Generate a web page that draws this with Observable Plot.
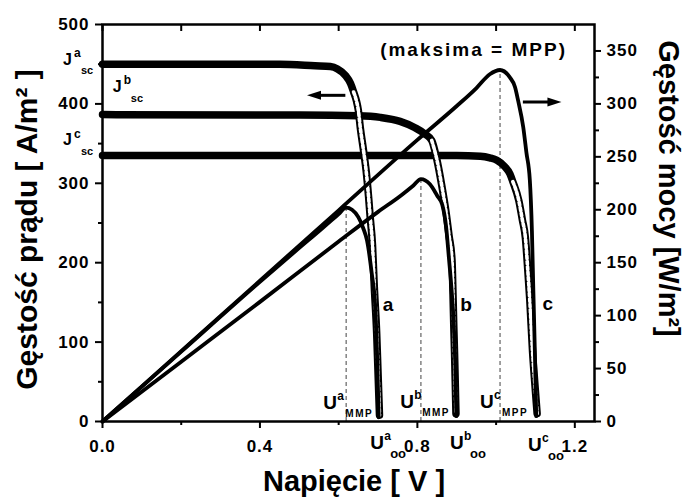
<!DOCTYPE html>
<html>
<head>
<meta charset="utf-8">
<script src="https://cdn.jsdelivr.net/npm/d3@7"></script>
<script src="https://cdn.jsdelivr.net/npm/@observablehq/plot@0.6"></script>
<style>
  body { margin: 0; background: #fff; }
  svg text { font-family: "Liberation Sans", Arial, sans-serif; font-weight: bold; }
</style>
</head>
<body>
<div id="chart"></div>
<script>
// Cells
const cells = ["a", "b", "c"];

// Current density J [A/m²] versus voltage U [V]
const uA = [0, 0.45, 0.54, 0.579, 0.597, 0.617, 0.630, 0.638, 0.645, 0.650, 0.655, 0.663, 0.670, 0.676, 0.680, 0.686, 0.6905, 0.6966, 0.6996, 0.7037];
const jA = [450, 450, 448, 447, 444, 436, 426, 415, 404, 392, 370, 342, 315, 283, 258, 222, 170, 111, 68, 8];

const uB = [0, 0.50, 0.65, 0.706, 0.756, 0.794, 0.8195, 0.8365, 0.849, 0.862, 0.873, 0.8805, 0.888, 0.8905, 0.8925, 0.8945, 0.8962, 0.898];
const jB = [386.5, 386, 385, 383, 378, 370, 362, 354, 331, 297, 263, 234, 203, 160, 120, 85, 50, 10];

const uC = [0, 0.60, 0.90, 0.96, 0.984, 1.002, 1.022, 1.035, 1.0426, 1.0578, 1.0667, 1.0743, 1.0806, 1.0857, 1.0925, 1.0984, 1.1042];
const jC = [335, 335, 335, 334, 332, 329, 321, 312, 302, 278, 254, 232, 190, 152, 89, 48, 10];

// Power density P [W/m²] versus voltage U [V]
const puA = [0, 0.20, 0.40, 0.50, 0.56, 0.60, 0.619, 0.634, 0.650, 0.662, 0.672, 0.684, 0.693, 0.698, 0.7017];
const pA  = [0, 66, 132, 164, 183, 196, 202, 200, 193, 183, 171, 140, 108, 58, 4];

const puB = [0, 0.20, 0.40, 0.60, 0.70, 0.76, 0.79, 0.809, 0.832, 0.850, 0.863, 0.873, 0.880, 0.887, 0.892, 0.896, 0.899];
const pB  = [0, 56.5, 113, 170, 198, 214, 223, 229, 224, 213.5, 205, 184, 155, 124, 95, 57, 5];

const puC = [0, 0.20, 0.40, 0.60, 0.80, 0.90, 0.95, 0.984, 1.010, 1.035, 1.048, 1.056, 1.069, 1.077, 1.0857, 1.091, 1.0946, 1.0984, 1.102];
const pC  = [0, 66.5, 133, 199.5, 266, 298, 315, 328, 332, 325, 316, 303, 278, 254, 228, 180, 124, 67, 5];

// Maximum power points
const mppU = [0.619, 0.809, 1.010];
const mppP = [202, 229, 332];

// Axis ticks
const xTicks = [0, 0.4, 0.8, 1.2];
const xMinor = [0.2, 0.6, 1.0];
const jTicks = [0, 100, 200, 300, 400, 500];
const jMinor = [50, 150, 250, 350, 450];
const pTicks = [0, 50, 100, 150, 200, 250, 300, 350];
const pMinor = [25, 75, 125, 175, 225, 275, 325];

// The power axis (0–375 W/m²) shares the frame with the current axis (0–500 A/m²)
const pScale = 500 / 375;

const jU = [uA, uB, uC], jJ = [jA, jB, jC];
const pU = [puA, puB, puC], pP = [pA, pB, pC];
const jRows = cells.flatMap((c, k) => jU[k].map((u, i) => ({cell: c, u, j: jJ[k][i]})));
const pRows = cells.flatMap((c, k) => pU[k].map((u, i) => ({cell: c, u, p: pP[k][i]})));
const mpp = cells.map((c, k) => ({cell: c, u: mppU[k], p: mppP[k]}));

// Where the measured points separate into visible open squares
const squaresFrom = {a: 0.636, b: 0.832, c: 1.039};
const squareRows = jRows.filter(d => d.u >= squaresFrom[d.cell]);

// Filled arrow head pointing along +x
const arrowHead = {
  draw(ctx) { ctx.moveTo(7, 0); ctx.lineTo(-7, -4.5); ctx.lineTo(-7, 4.5); ctx.closePath(); }
};
const arrows = [
  {u1: 0.617, u2: 0.5374, j: 410.8, rot: 180},
  {u1: 1.068, u2: 1.1482, j: 402.4, rot: 0}
];

function tagged(items, o) {
  const base = {x: "u", y: "j", textAnchor: "start", lineAnchor: "middle", fill: "black"};
  return [
    Plot.text(items, {...base, text: "base", fontSize: o.size}),
    Plot.text(items, {...base, text: "sup", fontSize: o.supSize, dx: o.supDx, dy: o.supDy}),
    Plot.text(items, {...base, text: "sub", fontSize: o.subSize, dx: o.subDx, dy: o.subDy})
  ];
}

const jscTags = [
  {u: -0.1006, j: 456.0, base: "J", sup: "a", sub: "sc"},
  {u: 0.0261, j: 421.5, base: "J", sup: "b", sub: "sc"},
  {u: -0.1006, j: 354.1, base: "J", sup: "c", sub: "sc"}
];
const mppTags = [
  {u: 0.5610, j: 23.0, base: "U", sup: "a", sub: "MMP"},
  {u: 0.7562, j: 24.2, base: "U", sup: "b", sub: "MMP"},
  {u: 0.9590, j: 24.2, base: "U", sup: "c", sub: "MPP"}
];
const vocTags = [
  {u: 0.6800, j: -27.5, base: "U", sup: "a", sub: "oo"},
  {u: 0.8829, j: -27.5, base: "U", sup: "b", sub: "oo"},
  {u: 1.0810, j: -30.0, base: "U", sup: "c", sub: "oo"}
];
const curveTags = [
  {u: 0.7257, j: 147, t: "a"},
  {u: 0.9234, j: 147, t: "b"},
  {u: 1.1313, j: 148.5, t: "c"}
];

const plot = Plot.plot({
  width: 689,
  height: 498,
  marginLeft: 102,
  marginRight: 95,
  marginTop: 24,
  marginBottom: 77,
  x: {domain: [0, 1.25], axis: null, label: null},
  y: {domain: [0, 500], axis: null, label: null},
  style: {fontFamily: "'Liberation Sans', Arial, sans-serif", fontWeight: "bold", fontSize: "17px", background: "#fff", color: "black"},
  marks: [
    // MPP guides
    Plot.ruleX(mpp, {x: "u", y1: 0, y2: d => d.p * pScale, stroke: "#444", strokeWidth: 1, strokeDasharray: "4,3"}),
    // J–U curves (dense open-square markers)
    Plot.line(jRows, {x: "u", y: "j", z: "cell", stroke: "black", strokeWidth: 7.5, curve: "monotone-x"}),
    Plot.line(squareRows, {x: "u", y: "j", z: "cell", stroke: "white", strokeWidth: 3.6, strokeDasharray: "3,2.4", curve: "monotone-x"}),
    // P–U curves
    Plot.line(pRows, {x: "u", y: d => d.p * pScale, z: "cell", stroke: "black", strokeWidth: 3.8, curve: "monotone-x", strokeLinejoin: "round"}),
    // Arrows pointing to each axis
    Plot.link(arrows, {x1: "u1", x2: "u2", y1: "j", y2: "j", stroke: "black", strokeWidth: 3}),
    Plot.dot(arrows, {x: "u2", y: "j", symbol: arrowHead, rotate: "rot", r: 5, fill: "black", stroke: null}),
    // Frame and axes
    Plot.frame({strokeWidth: 2.5}),
    Plot.axisY(jTicks, {anchor: "left", tickSize: 7, tickPadding: 6, strokeWidth: 2, label: null}),
    Plot.axisY(jMinor, {anchor: "left", tickSize: 4, strokeWidth: 2, fill: "none", label: null}),
    Plot.axisY(pTicks.map(p => p * pScale), {anchor: "right", tickSize: 6, tickPadding: 6, strokeWidth: 2, label: null, tickFormat: d => String(Math.round(d / pScale))}),
    Plot.axisY(pMinor.map(p => p * pScale), {anchor: "right", tickSize: 4, strokeWidth: 2, fill: "none", label: null}),
    Plot.axisX(xTicks, {anchor: "bottom", tickSize: 7, tickPadding: 11, strokeWidth: 2, label: null, tickFormat: d3.format(".1f")}),
    Plot.axisX(xMinor, {anchor: "bottom", tickSize: 4, strokeWidth: 2, fill: "none", label: null}),
    Plot.axisX([...xTicks, ...xMinor], {anchor: "top", tickSize: -6, strokeWidth: 2, fill: "none", label: null}),
    // Axis titles
    Plot.text(["Napięcie [ V ]"], {frameAnchor: "bottom", textAnchor: "middle", dx: 5.5, dy: 60.7, lineAnchor: "middle", fontSize: 29}),
    Plot.text(["Gęstość prądu [ A/m² ]"], {frameAnchor: "left", textAnchor: "middle", rotate: -90, dx: -75, dy: 6.5, lineAnchor: "middle", fontSize: 30}),
    Plot.text(["Gęstość mocy [W/m²]"], {frameAnchor: "right", textAnchor: "middle", rotate: 90, dx: 73.7, dy: -34.5, lineAnchor: "middle", fontSize: 29}),
    // Annotations
    Plot.text([{u: 0.7054, j: 467.6, t: "(maksima = MPP)"}], {x: "u", y: "j", text: "t", textAnchor: "start", lineAnchor: "middle", fontSize: 19}),
    Plot.text(curveTags, {x: "u", y: "j", text: "t", lineAnchor: "middle", fontSize: 19}),
    ...tagged(jscTags, {size: 16, supSize: 12, supDx: 11, supDy: -6.5, subSize: 11, subDx: 18, subDy: 11.5}),
    ...tagged(mppTags, {size: 19, supSize: 12, supDx: 14, supDy: -7, subSize: 10, subDx: 22, subDy: 11}),
    ...tagged(vocTags, {size: 19, supSize: 12, supDx: 14, supDy: -7, subSize: 13, subDx: 20, subDy: 10.5})
  ]
});

const root = d3.select(plot);
root.selectAll('g[aria-label="x-axis tick label"] text, g[aria-label="y-axis tick label"] text').style("letter-spacing", "1px");
root.selectAll("text").filter(function () { return this.textContent === "(maksima = MPP)"; }).style("letter-spacing", "2px");
root.selectAll("text").filter(function () { return this.textContent === "MMP" || this.textContent === "MPP"; }).style("letter-spacing", "1.5px");

document.getElementById("chart").append(plot);
</script>
</body>
</html>
